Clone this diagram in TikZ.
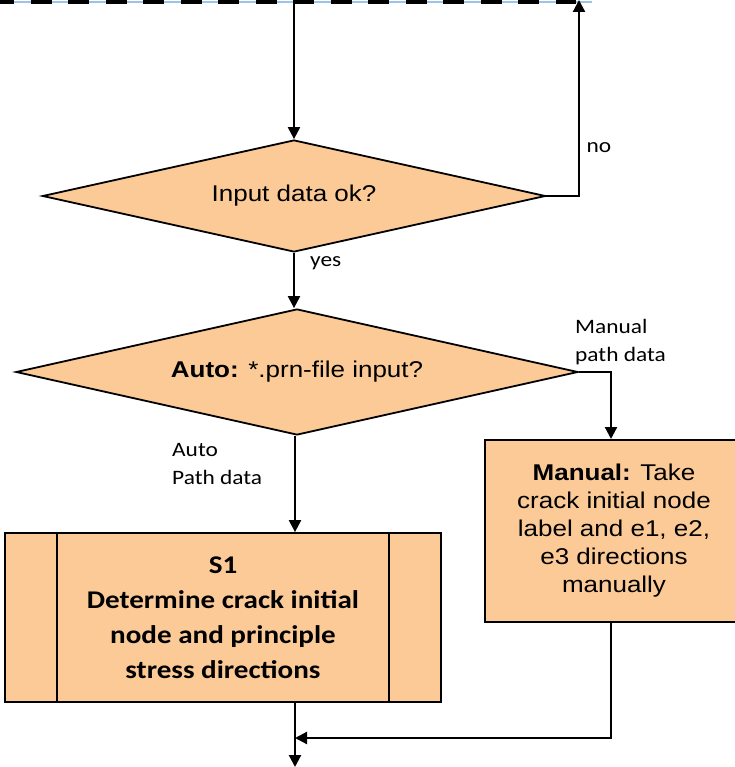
\documentclass[tikz,border=0pt]{standalone}
\usepackage{fontspec}
\usepackage{xcolor}
\usepackage{tikz}
\usetikzlibrary{positioning,arrows.meta,shapes.geometric}
\newfontfamily\arialfont[FakeStretch=1.14]{Liberation Sans}
\newfontfamily\califont[FakeStretch=1.14]{Carlito}
\definecolor{peach}{HTML}{FBCA97}
\definecolor{frameblue}{HTML}{9DC3E6}

\begin{document}
\begin{tikzpicture}[
    x=1pt, y=-1pt,
    decision/.style={diamond, draw, line width=1.8pt, fill=peach, inner sep=0pt, aspect=4.5, font=\arialfont\fontsize{22.8}{28}\selectfont},
    process/.style={rectangle, draw, line width=1.8pt, fill=peach, inner sep=0pt, align=center},
    lbl/.style={inner sep=0pt, align=left, font=\califont\fontsize{20.5}{28}\selectfont},
    arr/.style={-{Triangle[length=12pt, width=12pt]}, line width=2.2pt},
    topline/.style={line width=4.5pt, dash pattern=on 21pt off 16.5pt, dash phase=7pt}
]
    \useasboundingbox (0,0) rectangle (734,767);

    % Frame edge at the top
    \draw[frameblue, line width=2.5pt] (0,2) -- (592,2);
    \draw[topline] (0,2) -- (576,2);
    \coordinate (top) at (294,2);
    \coordinate (back) at (579,0);

    % Decisions
    \node[decision, minimum width=503pt, minimum height=112pt] (dec1) at (294,196) {Input data ok?};
    \node[decision, minimum width=562pt, minimum height=126pt] (dec2) at (297,372) {\textbf{Auto:} *.prn-file input?};

    % Process blocks
    \node[process, minimum width=436pt, minimum height=169pt, font=\califont\bfseries\fontsize{25.5}{35}\selectfont] (s1) at (223,617.5)
        {S1\\Determine crack initial\\node and principle\\stress directions};
    \node[process, minimum width=258pt, minimum height=182pt, font=\arialfont\fontsize{22.8}{28}\selectfont] (man) at (614,531)
        {\textbf{Manual:} Take\\crack initial node\\label and e1, e2,\\e3 directions\\manually};
    \draw[line width=1.8pt] ([xshift=53pt]s1.north west) -- ([xshift=53pt]s1.south west);
    \draw[line width=1.8pt] ([xshift=-53pt]s1.north east) -- ([xshift=-53pt]s1.south east);

    % Labels
    \node[lbl] (no) at (599,148) {no};
    \node[lbl, anchor=west] (yes) at (310,263) {yes};
    \node[lbl, anchor=west] (autolbl) at (172,464) {Auto\\Path data};
    \node[lbl, anchor=west] (manlbl) at (575,342) {Manual\\path data};

    % Connections
    \coordinate (join) at (295,738);
    \coordinate (end) at (295,767);
    \coordinate (mantop) at (611,439);
    \draw[arr] (top) -- (dec1.north);
    \draw[arr] (dec1.east) -| (back);
    \draw[arr] (dec1.south) -- (dec1.south |- dec2.north);
    \draw[arr] (dec2.south -| join) -- (join |- s1.north);
    \draw[arr] (dec2.east) -| (mantop);
    \draw[arr] (s1.south -| end) -- (end);
    \draw[arr] (man.south -| mantop) |- (join);
\end{tikzpicture}
\end{document}
